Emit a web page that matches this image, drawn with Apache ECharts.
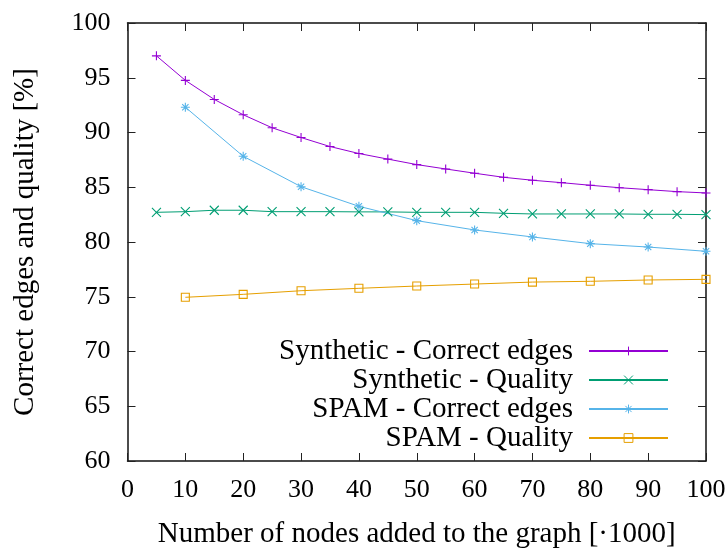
<!DOCTYPE html>
<html>
<head>
<meta charset="utf-8">
<script src="https://cdn.jsdelivr.net/npm/echarts@6/dist/echarts.min.js"></script>
<style>html,body{margin:0;padding:0;background:#fff}#c{width:726px;height:548px}</style>
</head>
<body>
<div id="c"></div>
<script>
const xSyn = [5,10,15,20,25,30,35,40,45,50,55,60,65,70,75,80,85,90,95,100];
const synCorrect = [97.0,94.76,93.02,91.62,90.43,89.54,88.72,88.08,87.57,87.07,86.67,86.28,85.91,85.64,85.42,85.18,84.96,84.78,84.6,84.48];
const synQuality = [82.71,82.77,82.9,82.9,82.77,82.77,82.77,82.75,82.75,82.71,82.71,82.71,82.62,82.56,82.56,82.56,82.56,82.53,82.53,82.5];
const xSpam = [10,20,30,40,50,60,70,80,90,100];
const spamCorrect = [92.31,87.83,85.05,83.26,81.95,81.1,80.46,79.85,79.54,79.15];
const spamQuality = [74.95,75.22,75.55,75.77,75.98,76.16,76.34,76.41,76.53,76.59];
const seriesNames = ['Synthetic - Correct edges','Synthetic - Quality','SPAM - Correct edges','SPAM - Quality'];
const xTicks = [0,10,20,30,40,50,60,70,80,90,100];
const yTicks = [60,65,70,75,80,85,90,95,100];

const FONT = 'Liberation Serif';
const colors = ['#9400D3','#009E73','#56B4E9','#E69F00'];
const symbols = [
  'path://M5,0L5,10M0,5L10,5',
  'path://M0,0L10,10M0,10L10,0',
  'path://M5,0L5,10M0,5L10,5M1.5,1.5L8.5,8.5M1.5,8.5L8.5,1.5',
  'path://M0,0L10,0L10,10L0,10Z'
];
const pair = (xs, ys) => xs.map((x, i) => [x, ys[i]]);
const dataSets = [pair(xSyn, synCorrect), pair(xSyn, synQuality), pair(xSpam, spamCorrect), pair(xSpam, spamQuality)];

const axisCommon = {
  type: 'value',
  splitLine: {show: false},
  axisLine: {show: true, onZero: false, lineStyle: {color: '#111', width: 1.5}},
  axisTick: {show: true, inside: true, length: 8, lineStyle: {color: '#222', width: 1}},
};

const chart = echarts.init(document.getElementById('c'), null, {renderer: 'canvas'});
chart.setOption({
  backgroundColor: '#fff',
  animation: false,
  grid: {left: 127.5, right: 20, top: 23, bottom: 87, containLabel: false, outerBoundsMode: 'none'},
  xAxis: [
    Object.assign({}, axisCommon, {
      min: xTicks[0], max: xTicks[xTicks.length-1], interval: 10, position: 'bottom',
      axisLabel: {show: true, margin: 16, color: '#000', fontFamily: FONT, fontSize: 26},
      name: 'Number of nodes added to the graph [·1000]',
      nameLocation: 'middle', nameGap: 58.5,
      nameTextStyle: {color: '#000', fontFamily: FONT, fontSize: 29}
    }),
    Object.assign({}, axisCommon, {
      min: xTicks[0], max: xTicks[xTicks.length-1], interval: 10, position: 'top',
      axisLabel: {show: false}
    })
  ],
  yAxis: [
    Object.assign({}, axisCommon, {
      min: yTicks[0], max: yTicks[yTicks.length-1], interval: 5, position: 'left',
      axisLabel: {show: true, margin: 17, color: '#000', fontFamily: FONT, fontSize: 26}
    }),
    Object.assign({}, axisCommon, {
      min: yTicks[0], max: yTicks[yTicks.length-1], interval: 5, position: 'right',
      axisLabel: {show: false}
    })
  ],
  graphic: [{
    type: 'text', x: 25, y: 242, rotation: Math.PI/2,
    style: {text: 'Correct edges and quality [%]', fontFamily: FONT, fontSize: 29, fill: '#000', align: 'center', verticalAlign: 'middle'}
  }],
  legend: {
    orient: 'vertical', align: 'right', right: 57, top: 336.5, padding: 0,
    itemWidth: 79, itemHeight: 11, itemGap: 0,
    textStyle: {fontFamily: FONT, fontSize: 29, color: '#000', lineHeight: 29, padding: [0, 11, 0, 0]},
    itemStyle: {borderWidth: 1},
    data: seriesNames
  },
  series: seriesNames.map((name, i) => ({
    name: name, type: 'line', data: dataSets[i],
    symbol: symbols[i], symbolSize: i === 3 ? 8 : 9, showSymbol: true, showAllSymbol: true,
    lineStyle: {color: colors[i], width: 1},
    itemStyle: {color: 'rgba(0,0,0,0)', borderColor: colors[i], borderWidth: 1.1},
    emphasis: {disabled: true},
    z: 3
  }))
});
</script>
</body>
</html>
